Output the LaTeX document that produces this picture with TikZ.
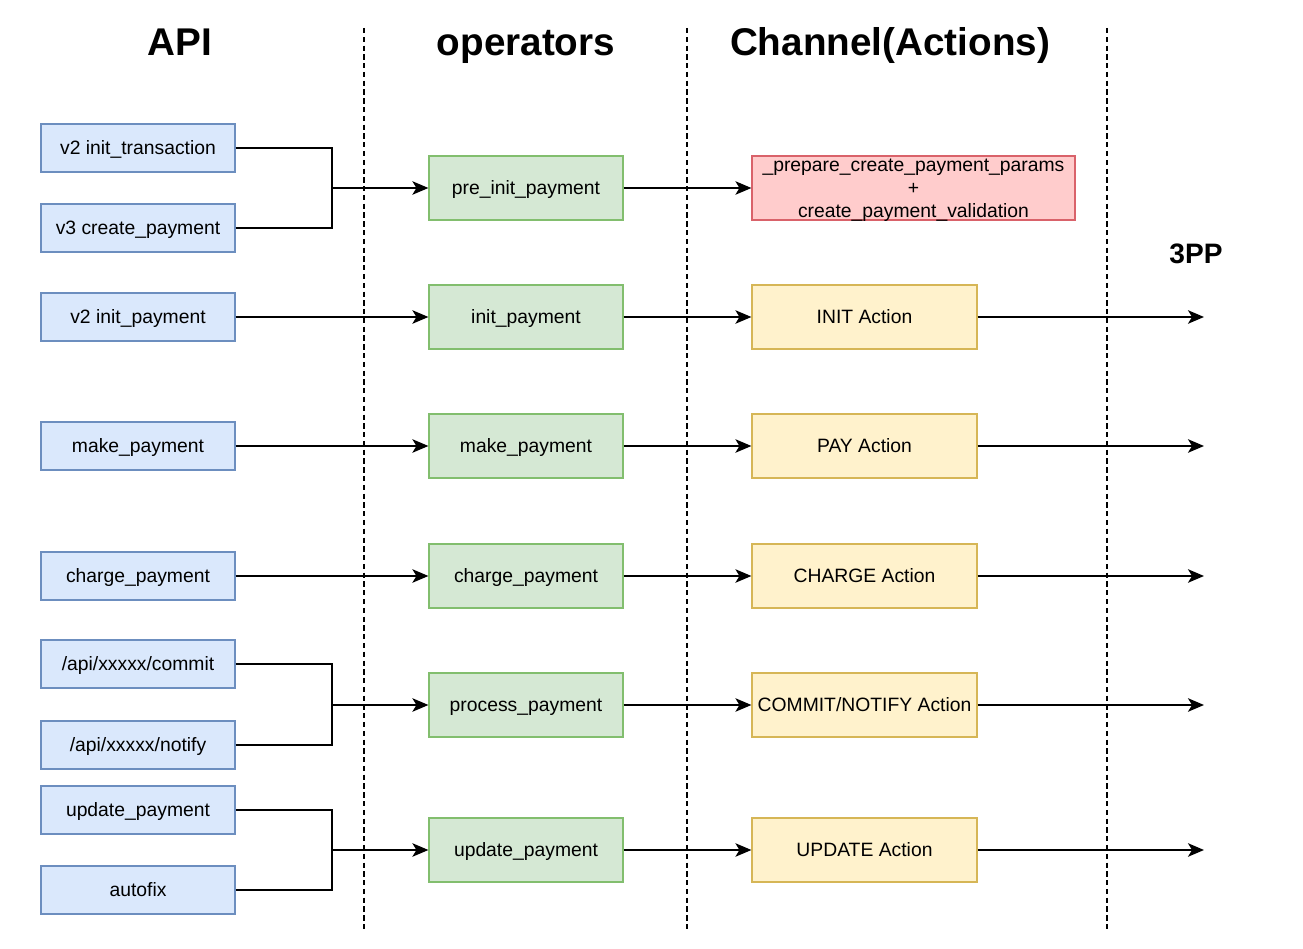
\documentclass[tikz,border=0pt]{standalone}
\usepackage{fontspec}
\setmainfont{Liberation Sans}
\usetikzlibrary{arrows.meta}
\definecolor{apifill}{HTML}{DAE8FC}
\definecolor{apiline}{HTML}{6C8EBF}
\definecolor{opfill}{HTML}{D5E8D4}
\definecolor{opline}{HTML}{82BE6E}
\definecolor{actfill}{HTML}{FFF2CC}
\definecolor{actline}{HTML}{D6B656}
\definecolor{errfill}{HTML}{FFCCCC}
\definecolor{errline}{HTML}{D9626A}
\tikzset{
  box/.style={draw, line width=0.7pt, inner sep=0pt, align=center, text depth=0pt,
    font=\fontsize{11}{13}\selectfont},
  oneline/.style={box, text height=7.2pt},
  apibox/.style={oneline, fill=apifill, draw=apiline, minimum width=3.88cm, minimum height=0.96cm},
  opbox/.style={oneline, fill=opfill, draw=opline, minimum width=3.88cm, minimum height=1.28cm},
  actbox/.style={oneline, fill=actfill, draw=actline, minimum width=4.5cm, minimum height=1.28cm},
  errbox/.style={box, text depth=-4.6pt, fill=errfill, draw=errline, minimum width=6.46cm, minimum height=1.28cm},
  lanetitle/.style={font=\fontsize{22}{26}\selectfont\bfseries, text height=15.8pt, text depth=0pt},
  wire/.style={line width=0.9pt},
  flow/.style={wire, -{Stealth[length=0.32cm,width=0.27cm,inset=0.08cm]}},
  lane/.style={densely dashed, line width=0.8pt}
}

\begin{document}
\begin{tikzpicture}[x=0.02cm,y=-0.02cm]
\useasboundingbox (0,0) rectangle (1303,949);
% lanes
\foreach \x in {364,687,1107}{
  \draw[lane] (\x,28)--(\x,932);
}
\node[lanetitle] (tApi) at (180,42) {API};
\node[lanetitle] (tOp) at (526,42) {operators};
\node[lanetitle] (tAct) at (890,42) {Channel(Actions)};
\node[lanetitle, font=\fontsize{16}{19}\selectfont\bfseries, text height=11.5pt] (tPP) at (1196,253) {3PP};

% API
\node[apibox] (apiInitTx) at (138,148) {v2 init\_transaction};
\node[apibox] (apiCreate) at (138,228) {v3 create\_payment};
\node[apibox] (apiInit) at (138,317) {v2 init\_payment};
\node[apibox] (apiPay) at (138,446) {make\_payment};
\node[apibox] (apiCharge) at (138,576) {charge\_payment};
\node[apibox] (apiCommit) at (138,664) {/api/xxxxx/commit};
\node[apibox] (apiNotify) at (138,745) {/api/xxxxx/notify};
\node[apibox] (apiUpdate) at (138,810) {update\_payment};
\node[apibox] (apiFix) at (138,890) {autofix};

% operators
\node[opbox] (opPre) at (526,188) {pre\_init\_payment};
\node[opbox] (opInit) at (526,317) {init\_payment};
\node[opbox] (opPay) at (526,446) {make\_payment};
\node[opbox] (opCharge) at (526,576) {charge\_payment};
\node[opbox] (opCommit) at (526,705) {process\_payment};
\node[opbox] (opUpdate) at (526,850) {update\_payment};

% channel actions
\node[errbox] (actPre) at (913.5,188) {\_prepare\_create\_payment\_params\\+\\create\_payment\_validation};
\node[actbox] (actInit) at (864.5,317) {INIT Action};
\node[actbox] (actPay) at (864.5,446) {PAY Action};
\node[actbox] (actCharge) at (864.5,576) {CHARGE Action};
\node[actbox] (actCommit) at (864.5,705) {COMMIT/NOTIFY Action};
\node[actbox] (actUpdate) at (864.5,850) {UPDATE Action};

% API -> operators
\coordinate (joinPre) at (332,188);
\coordinate (joinCommit) at (332,705);
\coordinate (joinUpdate) at (332,850);
\draw[wire] (apiInitTx.east) -| (joinPre);
\draw[wire] (apiCreate.east) -| (joinPre);
\draw[flow] (joinPre) -- (opPre);
\draw[wire] (apiCommit.east) -| (joinCommit);
\draw[wire] (apiNotify.east) -| (joinCommit);
\draw[flow] (joinCommit) -- (opCommit);
\draw[wire] (apiUpdate.east) -| (joinUpdate);
\draw[wire] (apiFix.east) -| (joinUpdate);
\draw[flow] (joinUpdate) -- (opUpdate);
\foreach \a in {Init,Pay,Charge}{
  \draw[flow] (api\a) -- (op\a);
}

% operators -> channel -> 3PP
\draw[flow] (opPre) -- (actPre);
\foreach \a/\y in {Init/317,Pay/446,Charge/576,Commit/705,Update/850}{
  \coordinate (pp\a) at (1204,\y);
  \draw[flow] (op\a) -- (act\a);
  \draw[flow] (act\a) -- (pp\a);
}
\end{tikzpicture}
\end{document}
